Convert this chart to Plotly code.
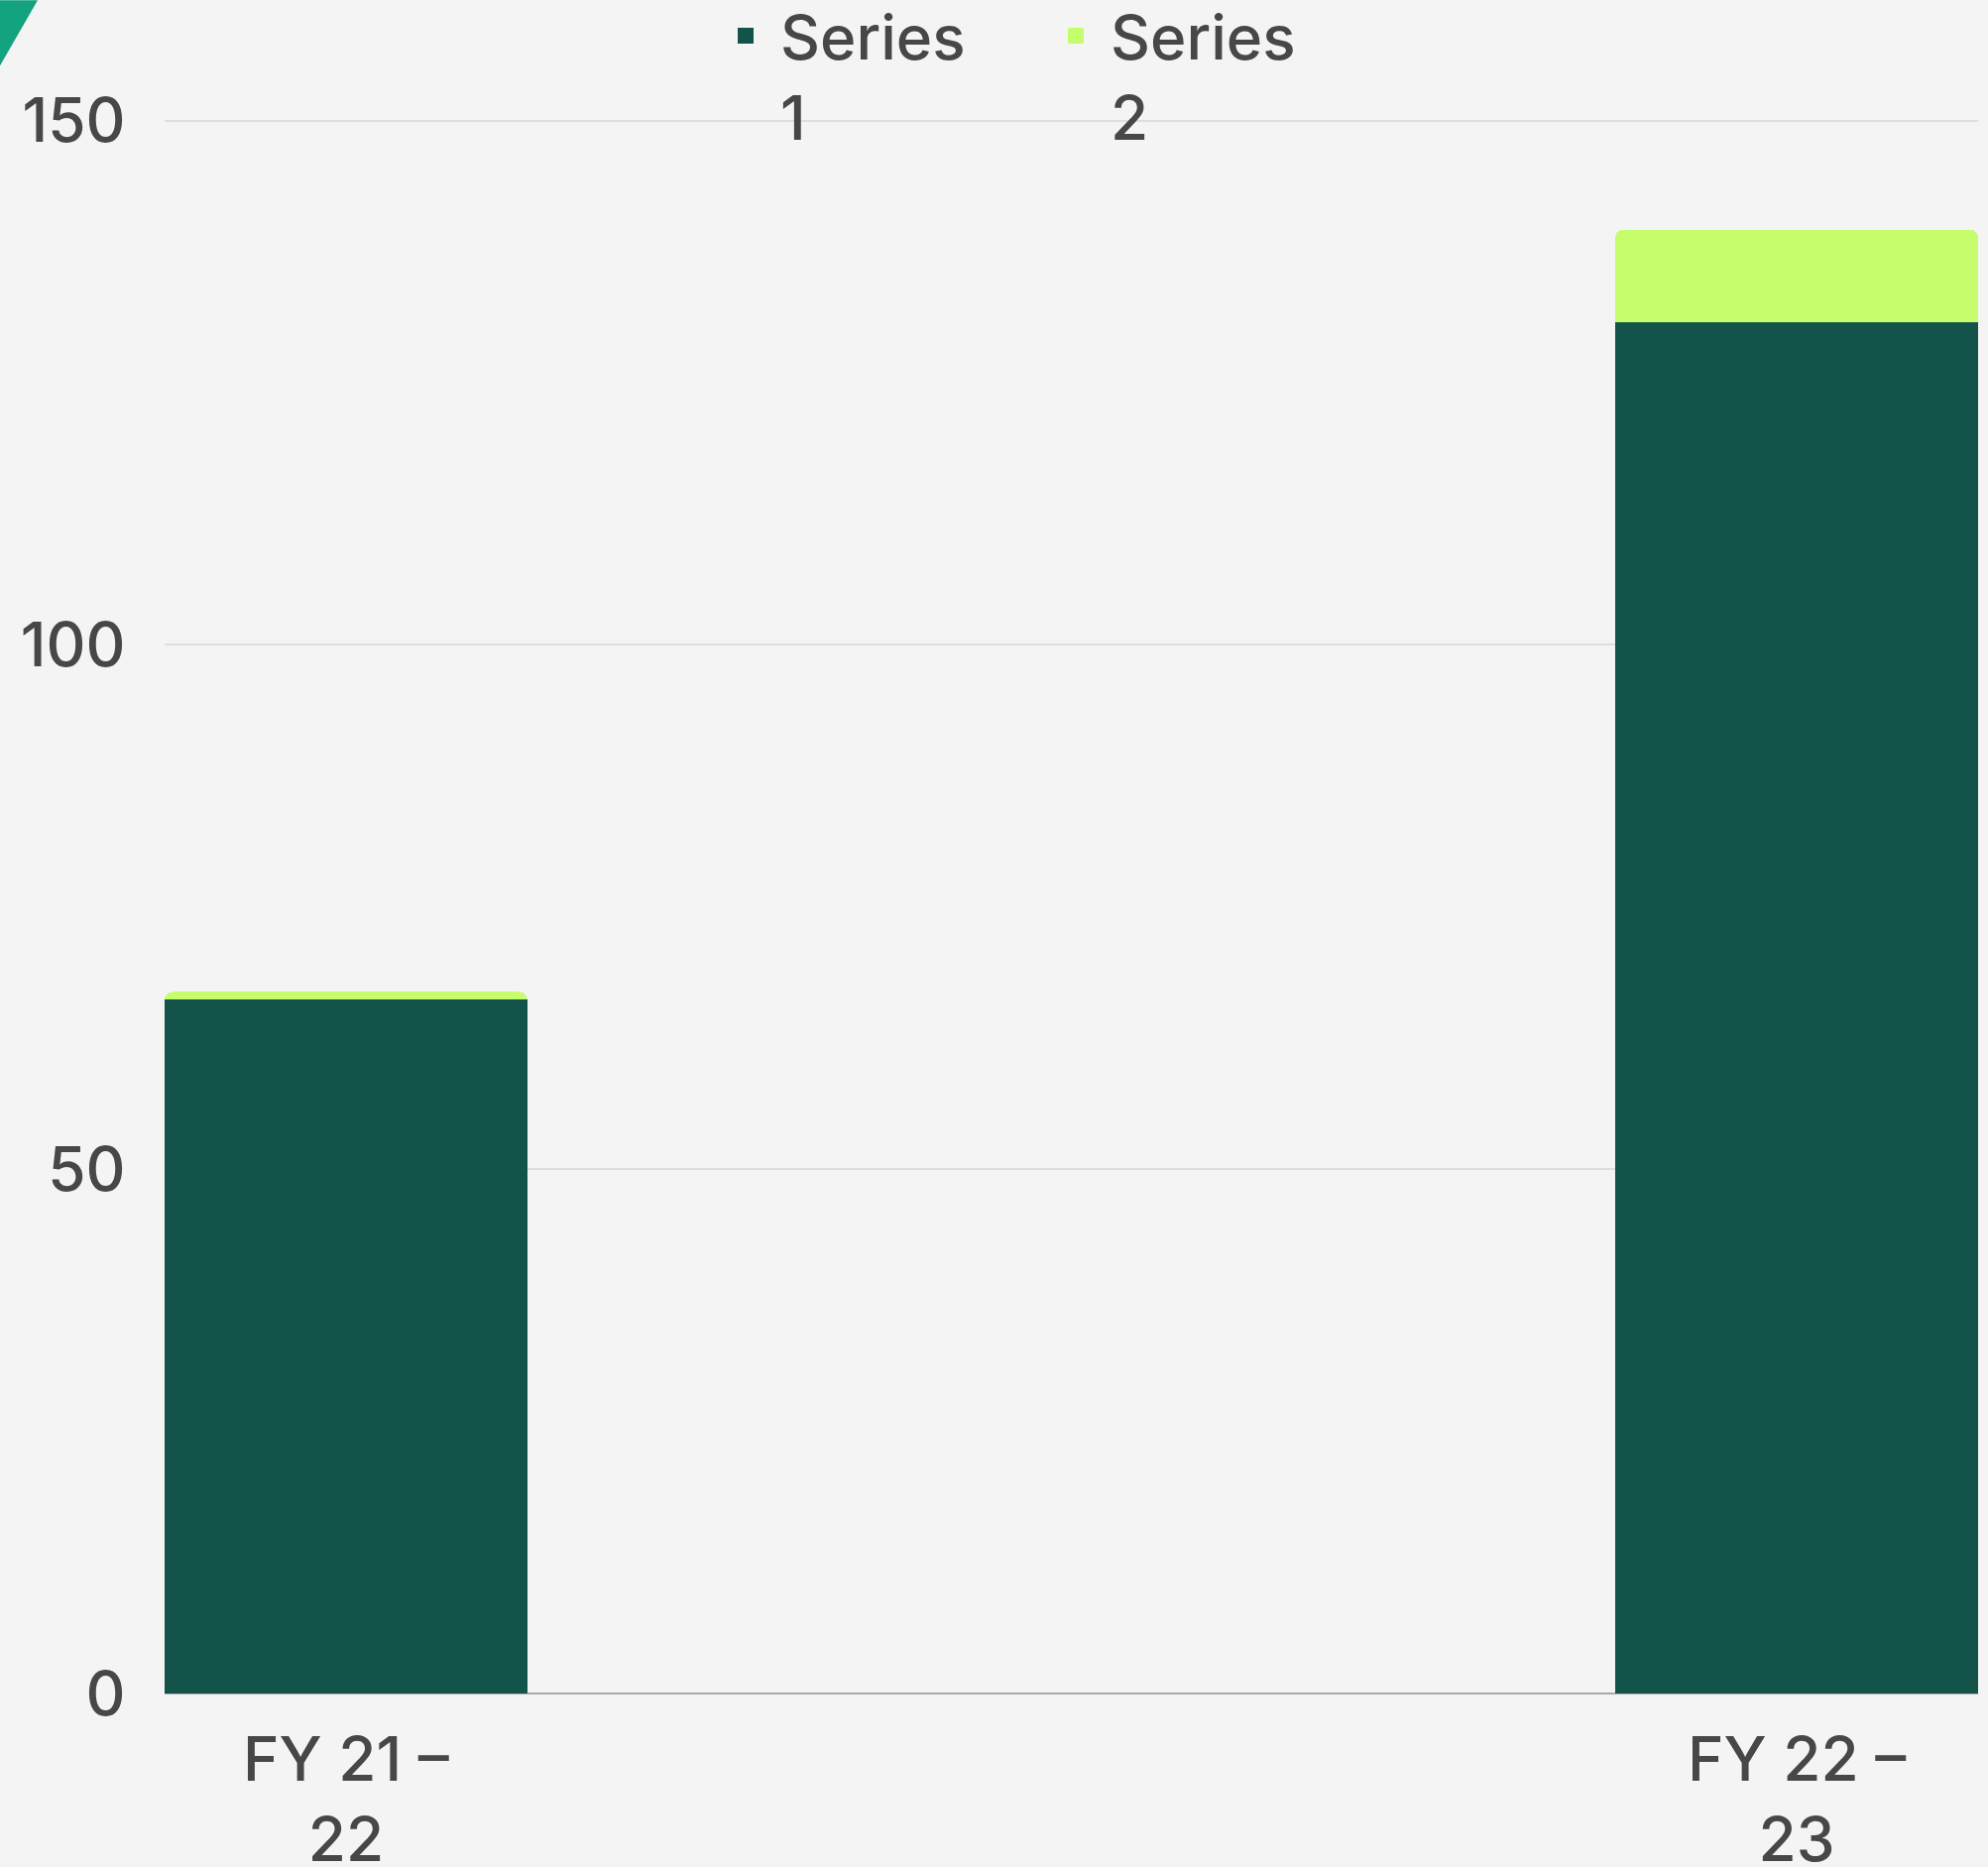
import plotly.graph_objects as go

categories = ["FY 21 –<br>22", "FY 22 –<br>23"]
series1 = [66.2, 130.8]
series2 = [0.7, 8.8]
series_names = ["Series<br>1", "Series<br>2"]
y_ticks = [0, 50, 100, 150]

W, H = 2005, 1883
ML, MR, MB = 166, 10, 175
UNIT = 10.577          # px per y unit
Y_TOP = 151
MT = H - MB - Y_TOP * UNIT
PW = W - ML - MR
PH = H - MT - MB

DARK = "#14534a"
LIME = "#c5fd6c"
TEXT = "#474747"
FONT = "Inter, Roboto, sans-serif"

fig = go.Figure()
x_idx = [0, 1]
fig.add_trace(go.Bar(x=x_idx, y=series1, marker=dict(color=DARK, line=dict(width=0)),
                     width=0.25, showlegend=False))
fig.add_trace(go.Bar(x=x_idx, y=series2, marker=dict(color=LIME, line=dict(width=0)),
                     width=0.25, showlegend=False))
for name, col in zip(series_names, [DARK, LIME]):
    fig.add_trace(go.Scatter(x=[None], y=[None], mode="markers", name=name,
                             marker=dict(symbol="square", size=20, color=col)))

def px_to_paper(px, py):
    return (px - ML) / PW, (H - MB - py) / PH

p0 = px_to_paper(0, 0)
p1 = px_to_paper(38, 0)
p2 = px_to_paper(0, 66)
fig.add_shape(type="path", xref="paper", yref="paper",
              path=f"M {p0[0]},{p0[1]} L {p1[0]},{p1[1]} L {p2[0]},{p2[1]} Z",
              fillcolor="#13a37f", line=dict(width=0), layer="above")

fig.update_layout(
    width=W, height=H,
    margin=dict(l=ML, r=MR, t=MT, b=MB, pad=0, autoexpand=False),
    paper_bgcolor="#f4f4f4", plot_bgcolor="#f4f4f4",
    barmode="stack", barcornerradius=8,
    font=dict(family=FONT, size=62, color=TEXT, weight=500),
    legend=dict(orientation="h", x=(717 - ML) / PW, xanchor="left",
                y=(H - MB + 11) / PH, yanchor="top", valign="top",
                traceorder="normal", itemwidth=60,
                entrywidthmode="pixels", entrywidth=258,
                bgcolor="rgba(0,0,0,0)", font=dict(size=62, color=TEXT, weight=500),
                tracegroupgap=0),
    xaxis=dict(tickmode="array", tickvals=x_idx, ticktext=categories,
               range=[-0.125, 1.125], showgrid=False, zeroline=False,
               showline=False, ticks="outside", ticklen=13, tickcolor="rgba(0,0,0,0)",
               tickfont=dict(size=62, color=TEXT, weight=500)),
    yaxis=dict(range=[0, Y_TOP], tickvals=y_ticks, showgrid=True, gridcolor="#dedede",
               gridwidth=2, zeroline=True, zerolinecolor="#a9a9a9", zerolinewidth=2,
               showline=False, ticks="outside", ticklen=26, tickcolor="rgba(0,0,0,0)",
               tickfont=dict(size=62, color=TEXT, weight=500)),
)

fig.write_html("out.html")
